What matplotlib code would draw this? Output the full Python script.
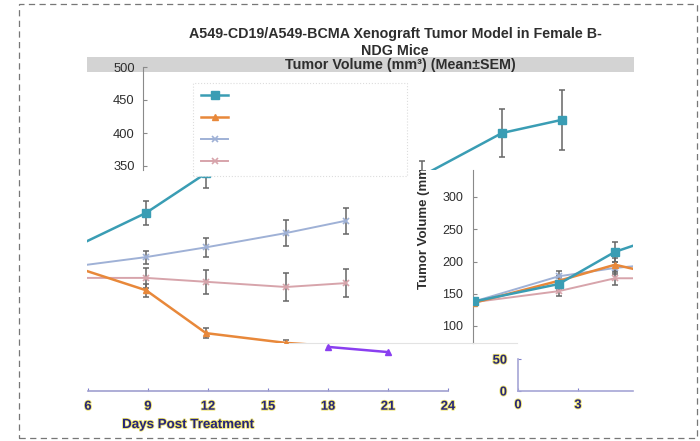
import matplotlib
matplotlib.use('Agg')
import matplotlib.pyplot as plt
import matplotlib.patheffects as pe
from matplotlib.patches import Rectangle
from matplotlib.transforms import Bbox, TransformedBbox

plt.rcParams['font.family'] = ['Liberation Sans', 'DejaVu Sans']

# ---------------- data ----------------
days = [0, 3, 5, 9, 12, 16, 19]
teal = [138, 165, 215, 274, 335, 400, 420]
teal_err = [6, 9, 15, 18, 23, 37, 45]
orange = [136, 170, 195, 155, 89, 74, 68]
orange_err = [5, 8, 10, 10, 8, 5, 5]
blue = [138, 177, 190, 206, 221, 243, 262]
blue_err = [5, 8, 10, 10, 15, 20, 20]
pink = [137, 154, 174, 174, 168, 160, 166]
pink_err = [5, 7, 10, 15, 18, 21, 22]
tail_days = [18, 21]
tail_vals = [68, 60]

y_ticks_top = [350, 400, 450, 500]
y_ticks_mid = [100, 150, 200, 250, 300]
y_ticks_low = [0, 50]
x_ticks_left = [6, 9, 12, 15, 18, 21, 24]
x_ticks_right = [0, 3]

title = "A549-CD19/A549-BCMA Xenograft Tumor Model in Female B-\nNDG Mice"
subtitle = "Tumor Volume (mm³) (Mean±SEM)"
xlabel = "Days Post Treatment"
ylabel = "Tumor Volume (mm³)"

# ---------------- figure ----------------
W, H = 700, 441
fig = plt.figure(figsize=(7, 4.41), dpi=100)

NAVY = '#25257a'
GLOW = [pe.withStroke(linewidth=1.2, foreground='#efe46a')]
AXGREY = '#8a8a8a'
TXT = '#2e2e2e'


def box(x0, y0, x1, y1):
    return [x0 / W, 1 - y1 / H, (x1 - x0) / W, (y1 - y0) / H]


def px_ax(x0, y0, x1, y1, zorder=1):
    ax = fig.add_axes(box(x0, y0, x1, y1), zorder=zorder)
    ax.patch.set_alpha(0)
    for s in ax.spines.values():
        s.set_visible(False)
    ax.set_xticks([])
    ax.set_yticks([])
    return ax


styles = [
    (pink, pink_err, dict(color='#d7a4ab', marker='x', ms=4, mew=1.2, lw=1.4)),
    (blue, blue_err, dict(color='#9fb1d6', marker='x', ms=4, mew=1.2, lw=1.4)),
    (orange, orange_err, dict(color='#e8883a', marker='^', ms=5, lw=1.8)),
    (teal, teal_err, dict(color='#3a9db4', marker='s', ms=6, lw=1.8)),
]


def draw_series(ax):
    handles = []
    for vals, err, st in styles:
        ax.errorbar(days, vals, yerr=err, fmt='none', ecolor='#666666',
                    elinewidth=1.1, capsize=2, capthick=1.1, zorder=2)
        h, = ax.plot(days, vals, zorder=3, **st)
        handles.append(h)
    return handles[::-1]


# dashed outer border
fig.patches.append(Rectangle((19 / W, 1 - 438 / H), (697 - 19) / W, (438 - 4) / H,
                             transform=fig.transFigure, fill=False,
                             edgecolor='#777777', lw=0.9,
                             linestyle=(0, (5, 3.5)), zorder=0))
# grey band
fig.patches.append(Rectangle((87 / W, 1 - 72 / H), (634 - 87) / W, 15 / H,
                             transform=fig.transFigure, facecolor='#d3d3d3',
                             edgecolor='none', zorder=0.5))

fig.text(395 / W, 1 - 42.5 / H, title, ha='center', va='center', fontsize=10.3,
         fontweight='bold', color=TXT, linespacing=1.2, zorder=3)
fig.text(400 / W, 1 - 65 / H, subtitle, ha='center', va='center', fontsize=10.3,
         fontweight='bold', color=TXT, zorder=3)

# ---- tile A : upper part of the chart (350-500) ----
axA = px_ax(143, 57, 634, 170, zorder=2)
hA = draw_series(axA)
axA.set_xlim(12 - (422 - 143) / 20, 12 + (634 - 422) / 20)
axA.set_ylim(400 - (170 - 133) / 0.66, 400 + (133 - 57) / 0.66)
axA.spines['left'].set_visible(True)
axA.spines['left'].set_color(AXGREY)
axA.spines['left'].set_bounds(axA.get_ylim()[0], 500)
axA.set_yticks(y_ticks_top)
axA.tick_params(axis='y', direction='in', length=3, color=AXGREY,
                labelsize=9.3, labelcolor=TXT, pad=6)
leg = axA.legend(hA, [' '] * 4,
                 bbox_to_anchor=(193 / W, 1 - 172 / H, 214 / W, 89 / H),
                 bbox_transform=fig.transFigure, loc='upper left',
                 mode='expand', borderaxespad=0, fontsize=8,
                 handlelength=2.4, labelspacing=1.08, borderpad=0.75,
                 fancybox=False, framealpha=1)
leg.get_frame().set_edgecolor('#dddddd')
leg.get_frame().set_linestyle(':')
leg.get_frame().set_linewidth(0.8)

# ---- tile B1 : left data window ----
axB = px_ax(87, 170, 475, 343, zorder=1)
draw_series(axB)
axB.set_xlim(9 - (146 - 87) / 20, 9 + (475 - 146) / 20)
axB.set_ylim((391 - 343) / 0.65, (391 - 170) / 0.65)
axB.spines['bottom'].set_visible(True)
axB.spines['bottom'].set_color('#e3e3e3')
axB.spines['bottom'].set_bounds(16, axB.get_xlim()[1])

# ---- tile B2 : left x axis with recoloured tail ----
axB2 = px_ax(88, 343, 448, 391, zorder=1)
axB2.plot(tail_days, tail_vals, color='#8a3ff0', marker='^', ms=5, lw=1.8)
axB2.set_xlim(6, 24)
axB2.set_ylim(0, 74)
axB2.spines['bottom'].set_visible(True)
axB2.spines['bottom'].set_color('#a0a0d0')
axB2.spines['bottom'].set_linewidth(1.2)
axB2.set_xticks(x_ticks_left)
axB2.tick_params(axis='x', direction='in', length=2, color='#8080cc',
                 labelsize=9.3, labelcolor=NAVY, pad=7)
for t in axB2.get_xticklabels():
    t.set_fontweight('bold')
    t.set_path_effects(GLOW)

fig.text(188 / W, 1 - 425 / H, xlabel, ha='center', va='center', fontsize=9.6,
         fontweight='bold', color=NAVY, path_effects=GLOW, zorder=3)

# ---- tile C : right data window ----
axC = px_ax(473, 170, 633, 343, zorder=1)
draw_series(axC)
axC.set_xlim(-(474 - 473) / 28.2, (633 - 474) / 28.2)
axC.set_ylim((390.5 - 343) / 0.645, (390.5 - 170) / 0.645)
axC.spines['left'].set_visible(True)
axC.spines['left'].set_color(AXGREY)
axC.spines['bottom'].set_visible(True)
axC.spines['bottom'].set_color('#e3e3e3')
axC.spines['bottom'].set_bounds(axC.get_xlim()[0], (517 - 474) / 28.2)
axC.set_yticks(y_ticks_mid)
axC.tick_params(axis='y', direction='in', length=3, color=AXGREY,
                labelsize=9, labelcolor=TXT, pad=7)
lab = axC.set_ylabel(ylabel, fontsize=9.5, fontweight='bold', color=TXT)
axC.yaxis.set_label_coords(-0.27, 0.69)
clip = TransformedBbox(Bbox.from_extents(400 / W, 1 - 343 / H, 475 / W, 1 - 170 / H),
                       fig.transFigure)
lab.set_clip_box(clip)
lab.set_clip_on(True)

# ---- tile D : right low axis ----
axD = px_ax(518, 343, 633, 391, zorder=1)
axD.set_xlim(0, (633 - 518) / 20)
axD.set_ylim(0, (390.5 - 343) / 0.63)
for side in ('left', 'bottom'):
    axD.spines[side].set_visible(True)
    axD.spines[side].set_color('#a6a6d6')
    axD.spines[side].set_linewidth(1.2)
axD.spines['left'].set_bounds(0, 50)
axD.set_xticks(x_ticks_right)
axD.set_yticks(y_ticks_low)
axD.tick_params(direction='in', length=2, color='#8080cc', labelsize=9.3,
                labelcolor=NAVY)
axD.tick_params(axis='y', pad=8)
axD.tick_params(axis='x', pad=6)
for t in axD.get_xticklabels() + axD.get_yticklabels():
    t.set_fontweight('bold')
    t.set_path_effects(GLOW)

fig.savefig('out.png', dpi=100)
